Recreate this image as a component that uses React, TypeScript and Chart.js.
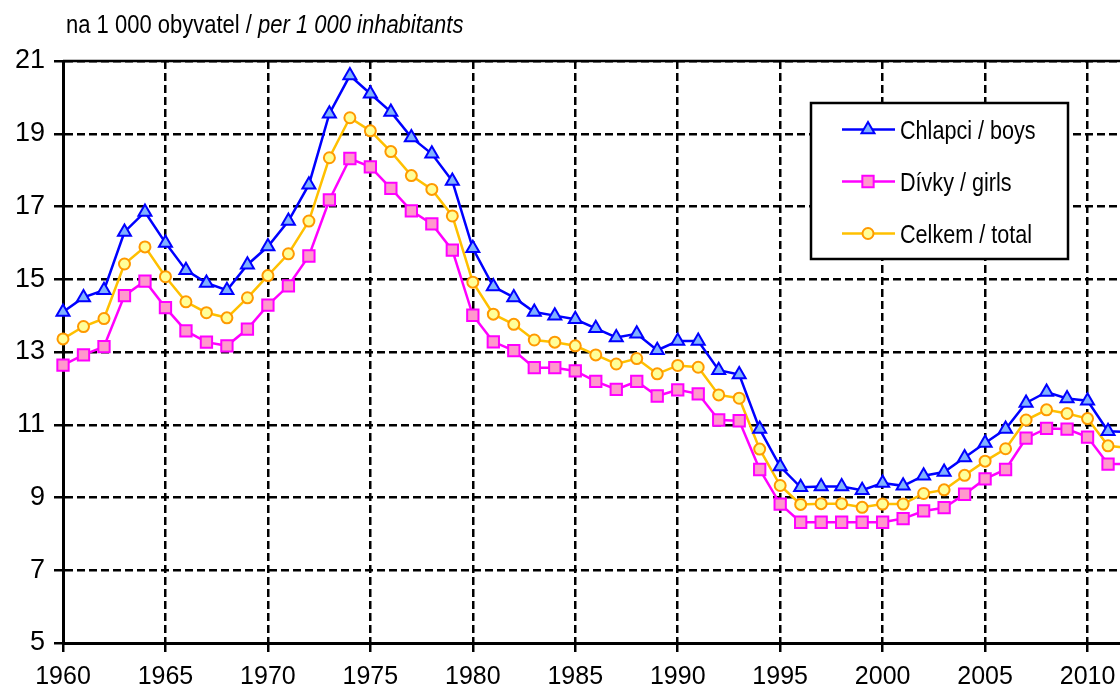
import React, { useEffect, useRef } from 'react';
import { Chart, registerables } from 'chart.js';

Chart.register(...registerables);

const years = [
  1960, 1961, 1962, 1963, 1964, 1965, 1966, 1967, 1968, 1969,
  1970, 1971, 1972, 1973, 1974, 1975, 1976, 1977, 1978, 1979,
  1980, 1981, 1982, 1983, 1984, 1985, 1986, 1987, 1988, 1989,
  1990, 1991, 1992, 1993, 1994, 1995, 1996, 1997, 1998, 1999,
  2000, 2001, 2002, 2003, 2004, 2005, 2006, 2007, 2008, 2009,
  2010, 2011, 2012,
];

const boys = [
  14.1, 14.5, 14.7, 16.3, 16.85, 16.0, 15.25, 14.9, 14.7, 15.4,
  15.9, 16.6, 17.6, 19.55, 20.6, 20.1, 19.6, 18.9, 18.45, 17.7,
  15.85, 14.8, 14.5, 14.1, 14.0, 13.9, 13.65, 13.4, 13.5, 13.05,
  13.3, 13.3, 12.5, 12.38, 10.88, 9.85, 9.28, 9.3, 9.3, 9.2,
  9.4, 9.32, 9.6, 9.7, 10.1, 10.5, 10.88, 11.6, 11.9, 11.72,
  11.66, 10.82, 10.8,
];

const girls = [
  12.64, 12.92, 13.15, 14.55, 14.95, 14.22, 13.58, 13.27, 13.17, 13.63,
  14.29, 14.82, 15.64, 17.18, 18.32, 18.09, 17.5, 16.88, 16.52, 15.8,
  14.01, 13.28, 13.04, 12.57, 12.57, 12.48, 12.19, 11.97, 12.19, 11.79,
  11.96, 11.85, 11.13, 11.11, 9.77, 8.82, 8.32, 8.32, 8.32, 8.32,
  8.32, 8.42, 8.63, 8.72, 9.09, 9.51, 9.77, 10.63, 10.9, 10.88,
  10.66, 9.92, 9.92,
];

const total = [
  13.36, 13.7, 13.92, 15.42, 15.89, 15.07, 14.38, 14.08, 13.94, 14.49,
  15.1, 15.7, 16.6, 18.34, 19.44, 19.08, 18.51, 17.85, 17.47, 16.74,
  14.92, 14.04, 13.76, 13.33, 13.27, 13.17, 12.92, 12.67, 12.82, 12.4,
  12.63, 12.58, 11.82, 11.73, 10.33, 9.33, 8.81, 8.83, 8.83, 8.73,
  8.82, 8.82, 9.11, 9.21, 9.61, 10.0, 10.34, 11.13, 11.41, 11.31,
  11.17, 10.42, 10.36,
];

const xTicks = [1960, 1965, 1970, 1975, 1980, 1985, 1990, 1995, 2000, 2005, 2010, 2015];
const yTicks = [5, 7, 9, 11, 13, 15, 17, 19, 21];
const seriesLabels = ['Chlapci / boys', 'Dívky / girls', 'Celkem / total'];
const titleMain = 'na 1 000 obyvatel / ';
const titleItalic = 'per 1 000 inhabitants';

const FONT = "'Liberation Sans', Arial, Helvetica, sans-serif";
const SQUEEZE = 0.83;

function drawMarker(ctx: CanvasRenderingContext2D, style: string, x: number, y: number, r: number, fill: string, stroke: string, bw: number) {
  ctx.save();
  ctx.fillStyle = fill;
  ctx.strokeStyle = stroke;
  ctx.lineWidth = bw;
  ctx.setLineDash([]);
  ctx.beginPath();
  if (style === 'triangle') {
    const a = Math.PI / 3;
    ctx.moveTo(x, y - r);
    ctx.lineTo(x + Math.sin(a) * r, y + r / 2);
    ctx.lineTo(x - Math.sin(a) * r, y + r / 2);
    ctx.closePath();
  } else if (style === 'rect') {
    const s = Math.SQRT1_2 * r;
    ctx.rect(x - s, y - s, 2 * s, 2 * s);
  } else {
    ctx.arc(x, y, r, 0, Math.PI * 2);
  }
  ctx.fill();
  ctx.stroke();
  ctx.restore();
}

function squeezedText(ctx: CanvasRenderingContext2D, parts: { text: string; font: string }[], x: number, y: number) {
  ctx.save();
  ctx.translate(x, y);
  ctx.scale(SQUEEZE, 1);
  ctx.fillStyle = '#000';
  ctx.textAlign = 'left';
  ctx.textBaseline = 'alphabetic';
  let cx = 0;
  for (const p of parts) {
    ctx.font = p.font;
    ctx.fillText(p.text, cx, 0);
    cx += ctx.measureText(p.text).width;
  }
  ctx.restore();
}

const overlayPlugin = {
  id: 'overlay',
  afterDraw(chart: any) {
    const { ctx, chartArea } = chart;
    ctx.save();
    ctx.setLineDash([]);
    ctx.strokeStyle = '#000';
    ctx.lineWidth = 2.5;
    ctx.beginPath();
    ctx.moveTo(chartArea.left, chartArea.top);
    ctx.lineTo(chartArea.right, chartArea.top);
    ctx.stroke();

    // title
    squeezedText(ctx, [
      { text: titleMain, font: `26.5px ${FONT}` },
      { text: titleItalic, font: `italic 26.5px ${FONT}` },
    ], 66, 33);

    // legend
    const bx = 811, by = 103, bw = 257, bh = 156;
    ctx.fillStyle = '#fff';
    ctx.fillRect(bx, by, bw, bh);
    ctx.strokeStyle = '#000';
    ctx.lineWidth = 2.5;
    ctx.strokeRect(bx, by, bw, bh);

    chart.data.datasets.forEach((ds: any, i: number) => {
      const cy = 129.5 + i * 52;
      ctx.strokeStyle = ds.borderColor;
      ctx.lineWidth = ds.borderWidth;
      ctx.beginPath();
      ctx.moveTo(842, cy);
      ctx.lineTo(895, cy);
      ctx.stroke();
      drawMarker(ctx, ds.pointStyle, 868, cy, ds.pointRadius, ds.pointBackgroundColor, ds.pointBorderColor, ds.pointBorderWidth);
      squeezedText(ctx, [{ text: ds.label, font: `26px ${FONT}` }], 900, cy + 9);
    });
    ctx.restore();
  },
};

export default function App() {
  const ref = useRef<HTMLCanvasElement>(null);

  useEffect(() => {
    const canvas = ref.current;
    if (!canvas) return;
    const toPts = (vals: number[]) => years.map((x, i) => ({ x, y: vals[i] }));
    const gridCommon = {
      color: '#000',
      lineWidth: 2.5,
      drawTicks: true,
      tickLength: 9,
      tickColor: '#000',
      tickWidth: 2.5,
      tickBorderDash: [],
    };
    const chart = new Chart(canvas, {
      type: 'line',
      data: {
        datasets: [
          {
            label: seriesLabels[0],
            data: toPts(boys),
            borderColor: '#0000FF',
            borderWidth: 2.5,
            pointStyle: 'triangle',
            pointRadius: 7.5,
            pointBackgroundColor: '#80B2FF',
            pointBorderColor: '#0000FF',
            pointBorderWidth: 2,
            clip: false,
          },
          {
            label: seriesLabels[1],
            data: toPts(girls),
            borderColor: '#FF00FF',
            borderWidth: 2.5,
            pointStyle: 'rect',
            pointRadius: 8,
            pointBackgroundColor: '#FF99CC',
            pointBorderColor: '#FF00FF',
            pointBorderWidth: 2,
            clip: false,
          },
          {
            label: seriesLabels[2],
            data: toPts(total),
            borderColor: '#FFC000',
            borderWidth: 2.5,
            pointStyle: 'circle',
            pointRadius: 5.5,
            pointBackgroundColor: '#FFFF99',
            pointBorderColor: '#FF9900',
            pointBorderWidth: 2,
            clip: false,
          },
        ] as any,
      },
      options: {
        animation: false,
        responsive: false,
        maintainAspectRatio: false,
        layout: { padding: { top: 61, right: 30, left: 0, bottom: 0 } },
        plugins: {
          legend: { display: false },
          tooltip: { enabled: false },
          title: { display: false },
        },
        elements: { line: { tension: 0 } },
        scales: {
          x: {
            type: 'linear',
            min: 1960,
            max: 2015,
            afterBuildTicks: (s: any) => {
              s.ticks = xTicks.map((v) => ({ value: v }));
            },
            afterFit: (s: any) => {
              s.height = 48;
              s.paddingLeft = 0;
              s.paddingRight = 0;
            },
            grid: gridCommon,
            border: { display: true, color: '#000', width: 3, dash: [8, 4] },
            ticks: {
              color: '#000',
              font: { family: FONT, size: 25 },
              padding: 10,
              maxRotation: 0,
              autoSkip: false,
              callback: (v: any) => String(v),
            },
          },
          y: {
            type: 'linear',
            min: 5,
            max: 21,
            afterBuildTicks: (s: any) => {
              s.ticks = yTicks.map((v) => ({ value: v }));
            },
            afterFit: (s: any) => {
              s.width = 63;
            },
            grid: gridCommon,
            border: { display: true, color: '#000', width: 3, dash: [8, 4] },
            ticks: {
              color: '#000',
              font: { family: FONT, size: 27 },
              padding: 9,
              autoSkip: false,
              callback: (v: any) => String(v),
            },
          },
        } as any,
      },
      plugins: [overlayPlugin],
    });
    return () => chart.destroy();
  }, []);

  return (
    <div style={{ position: 'absolute', left: 0, top: 0, width: 1120, height: 691, overflow: 'hidden', background: '#fff' }}>
      <canvas ref={ref} width={1220} height={691} style={{ position: 'absolute', left: 0, top: 0, width: 1220, height: 691 }} />
    </div>
  );
}
